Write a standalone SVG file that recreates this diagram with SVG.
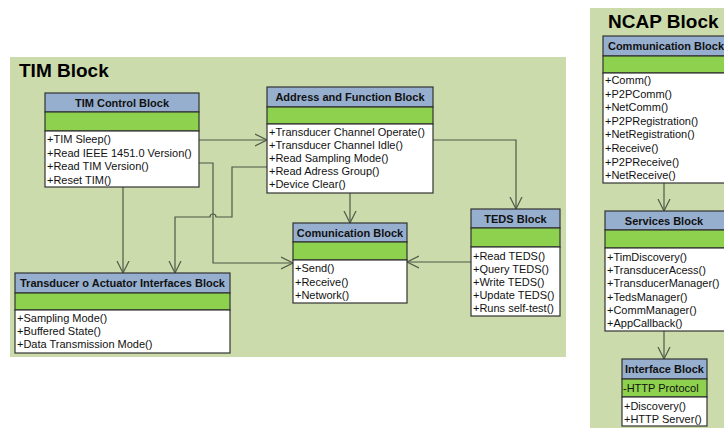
<svg xmlns="http://www.w3.org/2000/svg" width="724" height="428" viewBox="0 0 724 428">
<defs>
<style>
.bg{fill:#cbdbab;}
.title{font-family:"Liberation Sans",Arial,sans-serif;font-weight:bold;font-size:19px;fill:#000;}
.hd{fill:#97afcf;stroke:#333;stroke-width:1.2;}
.gr{fill:#8dd14e;stroke:#333;stroke-width:1.2;}
.bd{fill:#fff;stroke:#333;stroke-width:1.2;}
.ht{font-family:"Liberation Sans",Arial,sans-serif;font-weight:bold;font-size:11px;fill:#111;text-anchor:middle;}
.tx{font-family:"Liberation Sans",Arial,sans-serif;font-size:11px;fill:#111;}
.cn{fill:none;stroke:#4f5947;stroke-width:1.2;}
</style>
<marker id="arr" markerUnits="userSpaceOnUse" markerWidth="14" markerHeight="14" refX="12" refY="6" orient="auto" viewBox="0 0 14 12">
<path d="M0,0 L12,6 L0,12" fill="none" stroke="#4f5947" stroke-width="1.2"/>
</marker>
</defs>
<rect width="724" height="428" fill="#fff"/>
<rect class="bg" x="10" y="57" width="556" height="300"/>
<text class="title" x="19" y="77">TIM Block</text>
<rect class="bg" x="590" y="8" width="134" height="420"/>
<text class="title" x="608" y="28">NCAP Block</text>

<g id="connectors">
<path class="cn" d="M199,140 H267" marker-end="url(#arr)"/>
<path class="cn" d="M199,163 H213 V263 H293" marker-end="url(#arr)"/>
<path class="cn" d="M267,167 H232 V217 H216 A3,3 0 0 0 210,217 H175 V273" marker-end="url(#arr)"/>
<path class="cn" d="M123,187 V273" marker-end="url(#arr)"/>
<path class="cn" d="M350,193 V223" marker-end="url(#arr)"/>
<path class="cn" d="M433,140 H516 V209" marker-end="url(#arr)"/>
<path class="cn" d="M471,262 H407" marker-end="url(#arr)"/>
<path class="cn" d="M664,183 V211" marker-end="url(#arr)"/>
<path class="cn" d="M664,331 V359" marker-end="url(#arr)"/>
</g>

<g id="tim-control">
<rect class="hd" x="45" y="93" width="154" height="19"/>
<rect class="gr" x="45" y="112" width="154" height="19"/>
<rect class="bd" x="45" y="131" width="154" height="56"/>
<text class="ht" x="122" y="107">TIM Control Block</text>
<text class="tx" x="47" y="143">+TIM Sleep()</text>
<text class="tx" x="47" y="156.5">+Read IEEE 1451.0 Version()</text>
<text class="tx" x="47" y="170">+Read TIM Version()</text>
<text class="tx" x="47" y="183.5">+Reset TIM()</text>
</g>

<g id="address-function">
<rect class="hd" x="267" y="87" width="166" height="20"/>
<rect class="gr" x="267" y="107" width="166" height="17"/>
<rect class="bd" x="267" y="124" width="166" height="69"/>
<text class="ht" x="350" y="101">Address and Function Block</text>
<text class="tx" x="269" y="135.5">+Transducer Channel Operate()</text>
<text class="tx" x="269" y="148.5">+Transducer Channel Idle()</text>
<text class="tx" x="269" y="162">+Read Sampling Mode()</text>
<text class="tx" x="269" y="175">+Read Adress Group()</text>
<text class="tx" x="269" y="188">+Device Clear()</text>
</g>

<g id="comunication">
<rect class="hd" x="293" y="223" width="114" height="19"/>
<rect class="gr" x="293" y="242" width="114" height="18"/>
<rect class="bd" x="293" y="260" width="114" height="43"/>
<text class="ht" x="350" y="237">Comunication Block</text>
<text class="tx" x="295" y="272">+Send()</text>
<text class="tx" x="295" y="285.5">+Receive()</text>
<text class="tx" x="295" y="299">+Network()</text>
</g>

<g id="teds">
<rect class="hd" x="471" y="209" width="89" height="19"/>
<rect class="gr" x="471" y="228" width="89" height="19"/>
<rect class="bd" x="471" y="247" width="89" height="69"/>
<text class="ht" x="515.5" y="223">TEDS Block</text>
<text class="tx" x="473" y="260">+Read TEDS()</text>
<text class="tx" x="473" y="273">+Query TEDS()</text>
<text class="tx" x="473" y="286">+Write TEDS()</text>
<text class="tx" x="473" y="299">+Update TEDS()</text>
<text class="tx" x="473" y="312">+Runs self-test()</text>
</g>

<g id="transducer-actuator">
<rect class="hd" x="15" y="273" width="215" height="20"/>
<rect class="gr" x="15" y="293" width="215" height="17"/>
<rect class="bd" x="15" y="310" width="215" height="43"/>
<text class="ht" x="122.5" y="287">Transducer o Actuator Interfaces Block</text>
<text class="tx" x="17" y="322">+Sampling Mode()</text>
<text class="tx" x="17" y="335">+Buffered State()</text>
<text class="tx" x="17" y="348">+Data Transmission Mode()</text>
</g>

<g id="ncap-communication">
<rect class="hd" x="603" y="36" width="127" height="20"/>
<rect class="gr" x="603" y="56" width="127" height="17"/>
<rect class="bd" x="603" y="73" width="127" height="110"/>
<text class="ht" x="666" y="50">Communication Block</text>
<text class="tx" x="605" y="84">+Comm()</text>
<text class="tx" x="605" y="97.6">+P2PComm()</text>
<text class="tx" x="605" y="111.2">+NetComm()</text>
<text class="tx" x="605" y="124.8">+P2PRegistration()</text>
<text class="tx" x="605" y="138.4">+NetRegistration()</text>
<text class="tx" x="605" y="152">+Receive()</text>
<text class="tx" x="605" y="165.6">+P2PReceive()</text>
<text class="tx" x="605" y="179.2">+NetReceive()</text>
</g>

<g id="services">
<rect class="hd" x="605" y="211" width="120" height="19"/>
<rect class="gr" x="605" y="230" width="120" height="18"/>
<rect class="bd" x="605" y="248" width="120" height="83"/>
<text class="ht" x="664" y="225">Services Block</text>
<text class="tx" x="607" y="261">+TimDiscovery()</text>
<text class="tx" x="607" y="274.2">+TransducerAcess()</text>
<text class="tx" x="607" y="287.4">+TransducerManager()</text>
<text class="tx" x="607" y="300.6">+TedsManager()</text>
<text class="tx" x="607" y="313.8">+CommManager()</text>
<text class="tx" x="607" y="327">+AppCallback()</text>
</g>

<g id="interface">
<rect class="hd" x="622" y="359" width="85" height="20"/>
<rect class="gr" x="622" y="379" width="85" height="18"/>
<rect class="bd" x="622" y="397" width="85" height="29"/>
<text class="ht" x="664.5" y="373">Interface Block</text>
<text class="tx" x="623" y="392">-HTTP Protocol</text>
<text class="tx" x="624" y="409.5">+Discovery()</text>
<text class="tx" x="624" y="422.5">+HTTP Server()</text>
</g>
</svg>
